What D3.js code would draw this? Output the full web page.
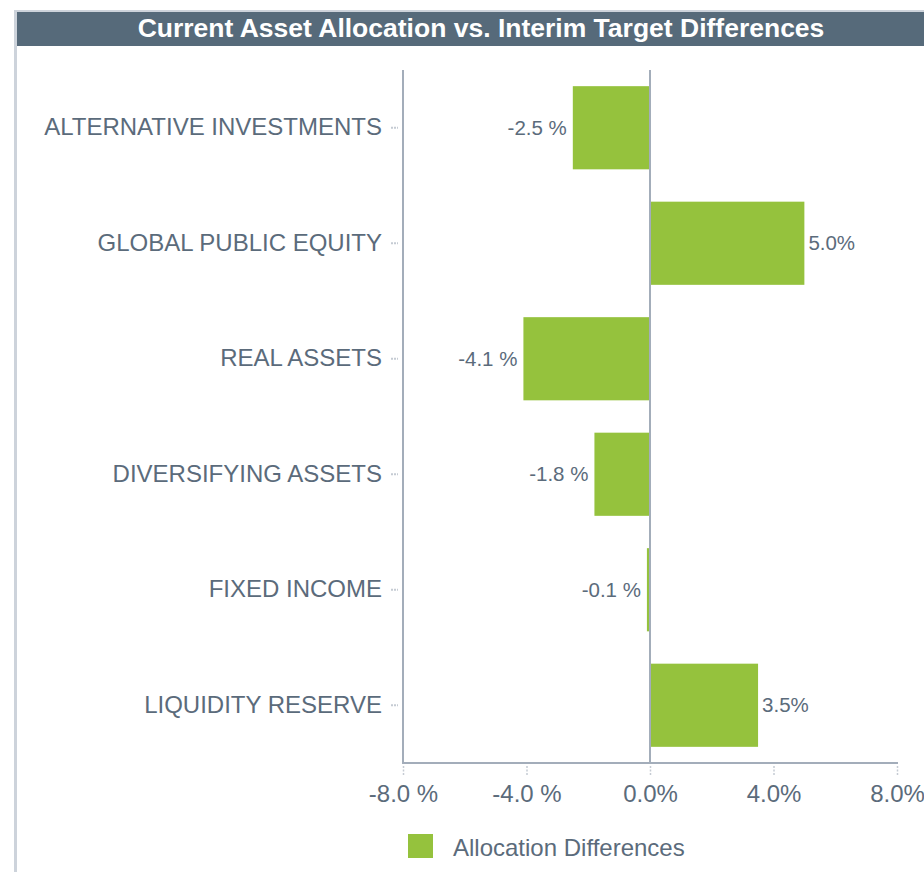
<!DOCTYPE html>
<html>
<head>
	<meta charset="utf-8">
	<title>Allocation Differences</title>
	<style>
		body { margin: 0; background: #fff; }
		svg { display: block; font-family: "Liberation Sans", Arial, sans-serif; }
	</style>
</head>
<body>
	<svg width="924" height="872"></svg>
	<script src="https://d3js.org/d3.v7.min.js"></script>
	<script>
		// data
		var categories = ["ALTERNATIVE INVESTMENTS", "GLOBAL PUBLIC EQUITY", "REAL ASSETS",
			"DIVERSIFYING ASSETS", "FIXED INCOME", "LIQUIDITY RESERVE"];
		var differences = [-2.5, 5.0, -4.1, -1.8, -0.1, 3.5];
		var tickValues = [-8, -4, 0, 4, 8];
		var seriesName = "Allocation Differences";
		var title = "Current Asset Allocation vs. Interim Target Differences";

		var textColor = "#5b6b7b";
		var axisColor = "#a3adba";
		var barColor = "#95c23d";

		var svg = d3.select("svg");

		// frame and title bar
		svg.append("rect").attr("x", 14).attr("y", 10).attr("width", 930).attr("height", 2).attr("fill", "#cdd3db");
		svg.append("rect").attr("x", 14).attr("y", 10).attr("width", 3).attr("height", 870).attr("fill", "#cdd3db");
		svg.append("rect").attr("x", 17).attr("y", 12).attr("width", 920).attr("height", 34).attr("fill", "#566a7a");
		svg.append("text")
			.attr("x", 481)
			.attr("y", 37)
			.attr("text-anchor", "middle")
			.attr("fill", "#fff")
			.style("font-size", "26.5px")
			.style("font-weight", "bold")
			.text(title);

		var margin = { top: 70, left: 403, right: 897, bottom: 763 };

		var x = d3.scaleLinear()
			.domain([-8, 8])
			.range([margin.left, margin.right]);

		var y = d3.scaleBand()
			.domain(categories)
			.range([margin.top, margin.bottom])
			.paddingInner(0.28)
			.paddingOuter(0.14);

		// bars
		svg.selectAll(".bar")
			.data(differences)
			.enter().append("rect")
			.attr("class", "bar")
			.attr("x", function(d) { return x(Math.min(0, d)); })
			.attr("y", function(d, i) { return y(categories[i]); })
			.attr("width", function(d) { return Math.abs(x(d) - x(0)); })
			.attr("height", y.bandwidth())
			.attr("fill", barColor);

		// zero line
		svg.append("line")
			.attr("x1", x(0)).attr("x2", x(0))
			.attr("y1", margin.top).attr("y2", margin.bottom)
			.attr("stroke", axisColor).attr("stroke-width", 2);

		// y axis
		var yAxis = svg.append("g")
			.attr("transform", "translate(" + margin.left + ",0)")
			.call(d3.axisLeft(y).tickSize(12).tickPadding(9));
		yAxis.select(".domain").remove();
		yAxis.selectAll(".tick line")
			.attr("x2", -5).attr("x1", -12)
			.attr("stroke", "#c5cbd3")
			.attr("stroke-width", 2)
			.attr("stroke-dasharray", "2,1");
		yAxis.selectAll(".tick text")
			.attr("x", -21)
			.attr("fill", textColor)
			.style("font-size", "24px")
			.style("font-family", "Liberation Sans, Arial, sans-serif");
		svg.append("line")
			.attr("x1", margin.left).attr("x2", margin.left)
			.attr("y1", margin.top).attr("y2", margin.bottom + 1)
			.attr("stroke", axisColor).attr("stroke-width", 2);

		// x axis
		var xAxis = svg.append("g")
			.attr("transform", "translate(0," + margin.bottom + ")")
			.call(d3.axisBottom(x).tickValues(tickValues).tickSize(12).tickPadding(10)
				.tickFormat(function(d) { return d < 0 ? d.toFixed(1) + " %" : d.toFixed(1) + "%"; }));
		xAxis.select(".domain").remove();
		xAxis.selectAll(".tick line")
			.attr("y1", 3).attr("y2", 13)
			.attr("stroke", "#c5cbd3")
			.attr("stroke-width", 1.5)
			.attr("stroke-dasharray", "2,1.5");
		xAxis.selectAll(".tick text")
			.attr("fill", textColor)
			.style("font-size", "24px")
			.style("font-family", "Liberation Sans, Arial, sans-serif");
		svg.append("line")
			.attr("x1", margin.left - 1).attr("x2", margin.right + 1)
			.attr("y1", margin.bottom).attr("y2", margin.bottom)
			.attr("stroke", axisColor).attr("stroke-width", 2);

		// value labels
		svg.selectAll(".value")
			.data(differences)
			.enter().append("text")
			.attr("class", "value")
			.attr("x", function(d) { return d < 0 ? x(d) - 6 : x(d) + 4; })
			.attr("y", function(d, i) { return y(categories[i]) + y.bandwidth() / 2 + 7; })
			.attr("text-anchor", function(d) { return d < 0 ? "end" : "start"; })
			.attr("fill", textColor)
			.style("font-size", "20.5px")
			.text(function(d) { return d < 0 ? d.toFixed(1) + " %" : d.toFixed(1) + "%"; });

		// legend
		svg.append("rect")
			.attr("x", 408).attr("y", 834)
			.attr("width", 25).attr("height", 24)
			.attr("fill", barColor);
		svg.append("text")
			.attr("x", 453).attr("y", 856)
			.attr("fill", textColor)
			.style("font-size", "24px")
			.text(seriesName);
	</script>
</body>
</html>
